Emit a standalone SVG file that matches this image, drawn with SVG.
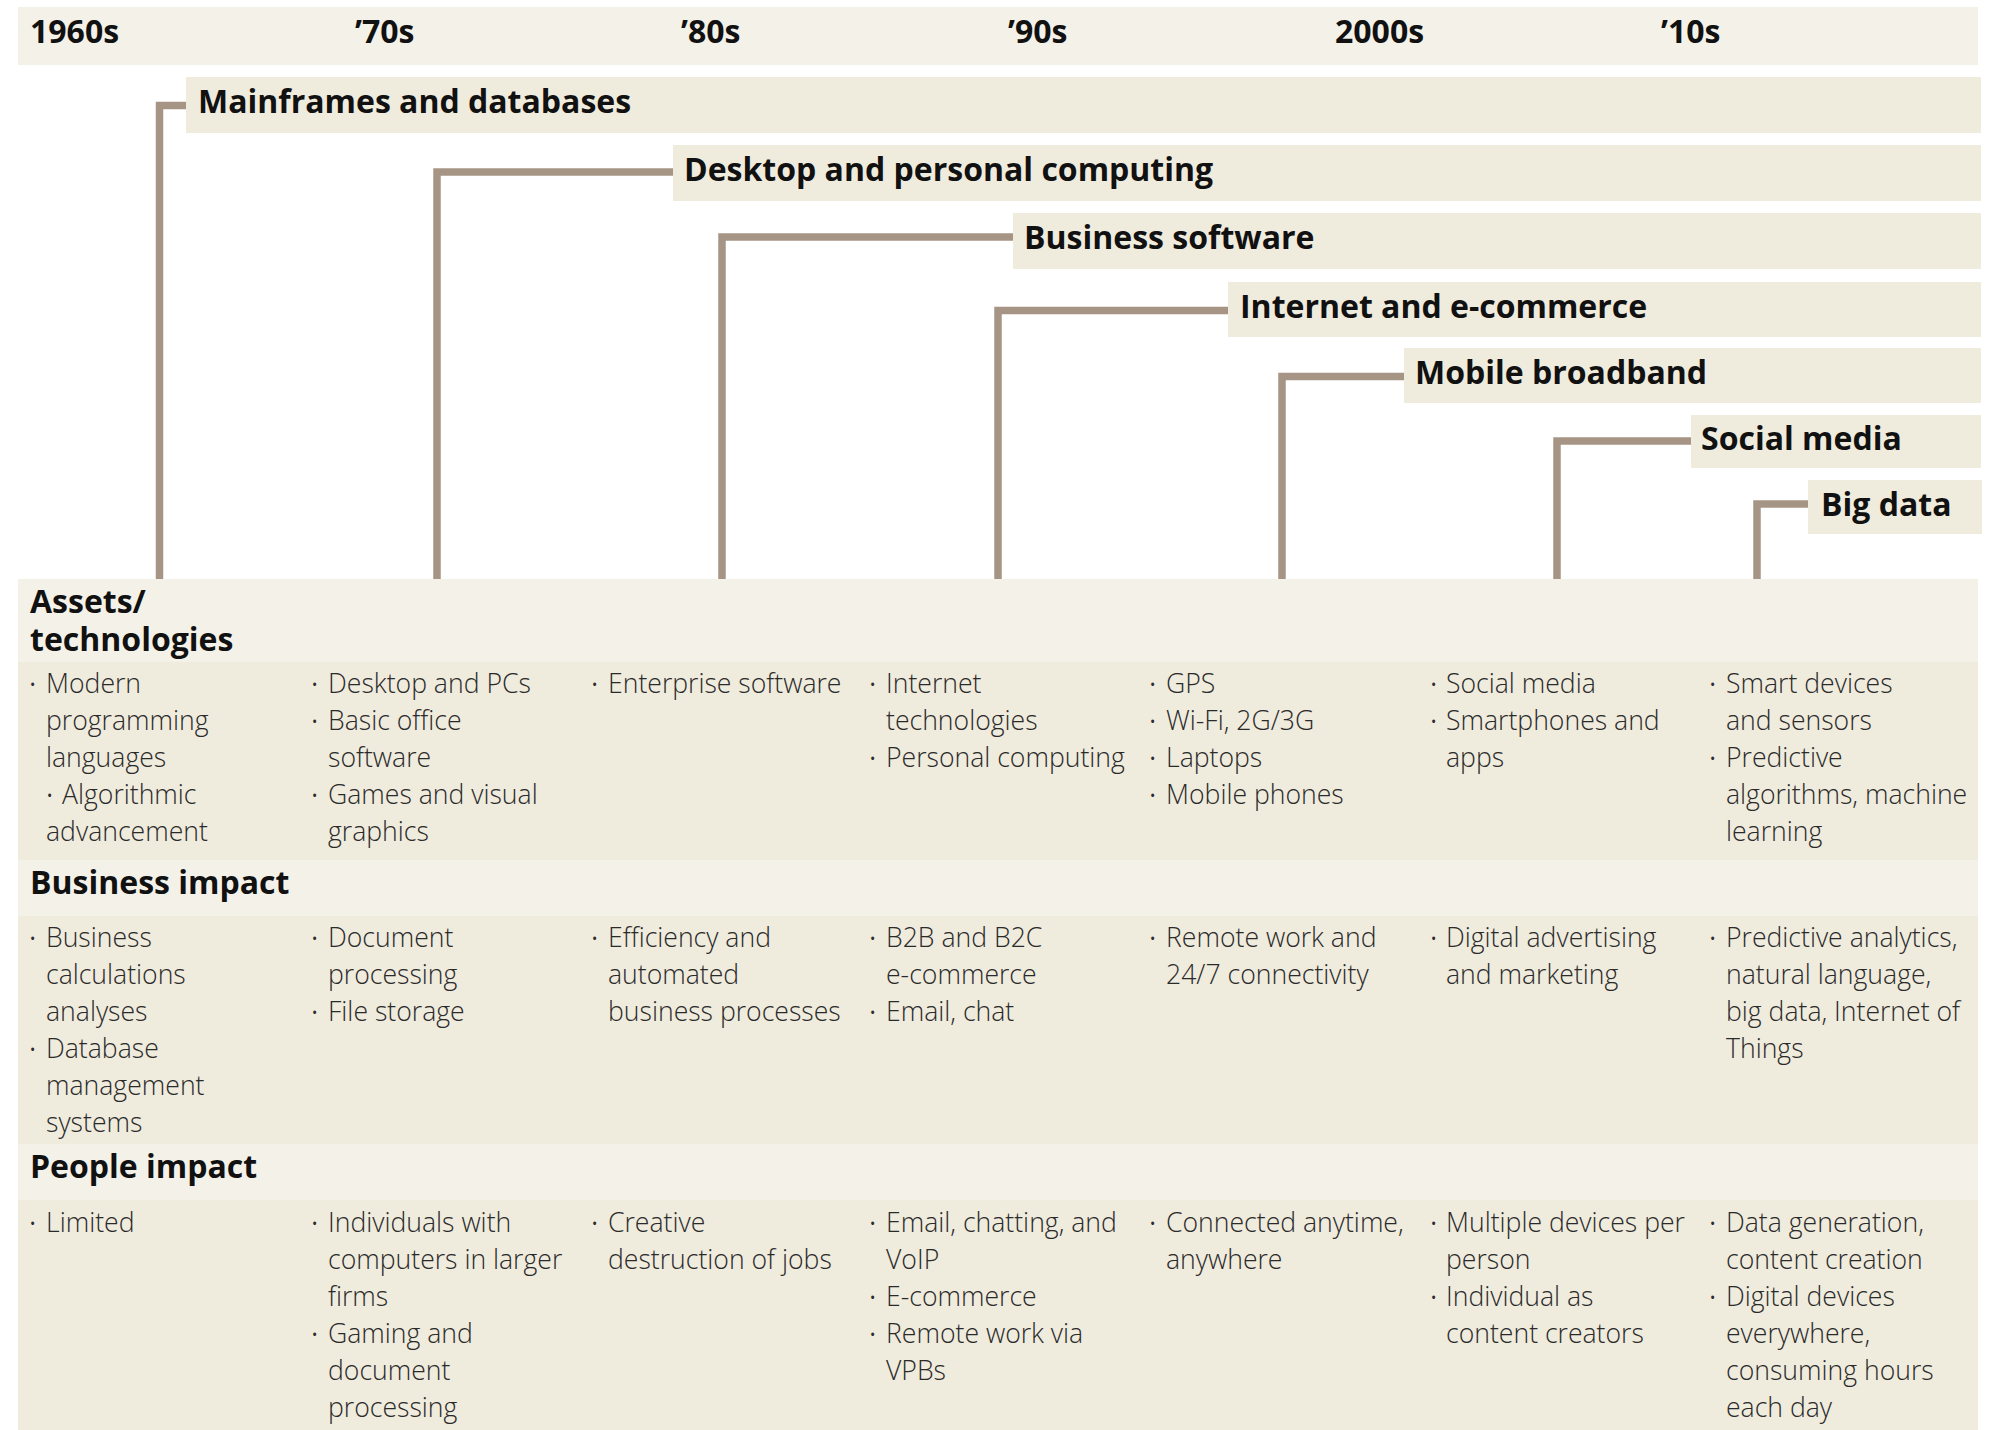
<svg xmlns="http://www.w3.org/2000/svg" width="1998" height="1430" viewBox="0 0 1998 1430">
<style>
.hd{fill:#f4f1e9}
.ct{fill:#efebdd}
.h{font-family:"Open Sans","Liberation Sans",sans-serif;font-weight:700;font-size:32px;fill:#111}
.b{font-family:"Open Sans","Liberation Sans",sans-serif;font-weight:300;font-size:26.6px;fill:#2a2a2a}
.d{font-size:14px;font-weight:400}
.cn{fill:none;stroke:#a69585;stroke-width:7.5;stroke-linejoin:miter;stroke-linecap:butt}
</style>
<rect x="0" y="0" width="1998" height="1430" fill="#ffffff"/>
<g id="timeline-header">
<rect class="hd" x="18" y="7" width="1960" height="58"/>
<text class="h" x="30" y="43">1960s</text>
<text class="h" x="355" y="43">’70s</text>
<text class="h" x="681" y="43">’80s</text>
<text class="h" x="1008" y="43">’90s</text>
<text class="h" x="1335" y="43">2000s</text>
<text class="h" x="1661" y="43">’10s</text>
</g>
<g id="connectors">
<path class="cn" d="M186 105.5H159.5V579"/>
<path class="cn" d="M673 172H437V579"/>
<path class="cn" d="M1013 237H722V579"/>
<path class="cn" d="M1228 310.5H998V579"/>
<path class="cn" d="M1404 376.5H1282V579"/>
<path class="cn" d="M1691 441H1557V579"/>
<path class="cn" d="M1808 504H1757V579"/>
</g>
<g id="mainframes"><rect class="ct" x="186" y="77" width="1795" height="56"/><text class="h" x="198" y="113">Mainframes and databases</text></g>
<g id="desktop"><rect class="ct" x="673" y="145" width="1308" height="56"/><text class="h" x="684" y="181">Desktop and personal computing</text></g>
<g id="business-software"><rect class="ct" x="1013" y="213" width="968" height="56"/><text class="h" x="1024" y="249">Business software</text></g>
<g id="internet"><rect class="ct" x="1228" y="282" width="753" height="55"/><text class="h" x="1240" y="318">Internet and e-commerce</text></g>
<g id="mobile"><rect class="ct" x="1404" y="348" width="577" height="55"/><text class="h" x="1415" y="384">Mobile broadband</text></g>
<g id="social"><rect class="ct" x="1691" y="415" width="290" height="53"/><text class="h" x="1701" y="450">Social media</text></g>
<g id="bigdata"><rect class="ct" x="1808" y="480" width="174" height="54"/><text class="h" x="1821" y="516">Big data</text></g>
<g id="table-bands">
<rect class="hd" x="18" y="579" width="1960" height="83"/>
<rect class="ct" x="18" y="662" width="1960" height="198"/>
<rect class="hd" x="18" y="860" width="1960" height="56"/>
<rect class="ct" x="18" y="916" width="1960" height="228"/>
<rect class="hd" x="18" y="1144" width="1960" height="56"/>
<rect class="ct" x="18" y="1200" width="1960" height="230"/>
<text class="h" x="30" y="613">Assets/</text>
<text class="h" x="30" y="651">technologies</text>
<text class="h" x="30" y="894">Business impact</text>
<text class="h" x="30" y="1178">People impact</text>
</g>
<g id="assets-row" class="b">
<text class="d" x="30" y="690">•</text><text x="46" y="693">Modern</text>
<text x="46" y="730">programming</text>
<text x="46" y="767">languages</text>
<text class="d" x="47" y="801">•</text><text x="62" y="804">Algorithmic</text>
<text x="46" y="841">advancement</text>

<text class="d" x="312" y="690">•</text><text x="328" y="693">Desktop and PCs</text>
<text class="d" x="312" y="727">•</text><text x="328" y="730">Basic office</text>
<text x="328" y="767">software</text>
<text class="d" x="312" y="801">•</text><text x="328" y="804">Games and visual</text>
<text x="328" y="841">graphics</text>

<text class="d" x="592" y="690">•</text><text x="608" y="693">Enterprise software</text>

<text class="d" x="870" y="690">•</text><text x="886" y="693">Internet</text>
<text x="886" y="730">technologies</text>
<text class="d" x="870" y="764">•</text><text x="886" y="767">Personal computing</text>

<text class="d" x="1150" y="690">•</text><text x="1166" y="693">GPS</text>
<text class="d" x="1150" y="727">•</text><text x="1166" y="730">Wi-Fi, 2G/3G</text>
<text class="d" x="1150" y="764">•</text><text x="1166" y="767">Laptops</text>
<text class="d" x="1150" y="801">•</text><text x="1166" y="804">Mobile phones</text>

<text class="d" x="1431" y="690">•</text><text x="1446" y="693">Social media</text>
<text class="d" x="1431" y="727">•</text><text x="1446" y="730">Smartphones and</text>
<text x="1446" y="767">apps</text>

<text class="d" x="1710" y="690">•</text><text x="1726" y="693">Smart devices</text>
<text x="1726" y="730">and sensors</text>
<text class="d" x="1710" y="764">•</text><text x="1726" y="767">Predictive</text>
<text x="1726" y="804">algorithms, machine</text>
<text x="1726" y="841">learning</text>
</g>
<g id="business-row" class="b">
<text class="d" x="30" y="944">•</text><text x="46" y="947">Business</text>
<text x="46" y="984">calculations</text>
<text x="46" y="1021">analyses</text>
<text class="d" x="30" y="1055">•</text><text x="46" y="1058">Database</text>
<text x="46" y="1095">management</text>
<text x="46" y="1132">systems</text>

<text class="d" x="312" y="944">•</text><text x="328" y="947">Document</text>
<text x="328" y="984">processing</text>
<text class="d" x="312" y="1018">•</text><text x="328" y="1021">File storage</text>

<text class="d" x="592" y="944">•</text><text x="608" y="947">Efficiency and</text>
<text x="608" y="984">automated</text>
<text x="608" y="1021">business processes</text>

<text class="d" x="870" y="944">•</text><text x="886" y="947">B2B and B2C</text>
<text x="886" y="984">e-commerce</text>
<text class="d" x="870" y="1018">•</text><text x="886" y="1021">Email, chat</text>

<text class="d" x="1150" y="944">•</text><text x="1166" y="947">Remote work and</text>
<text x="1166" y="984">24/7 connectivity</text>

<text class="d" x="1431" y="944">•</text><text x="1446" y="947">Digital advertising</text>
<text x="1446" y="984">and marketing</text>

<text class="d" x="1710" y="944">•</text><text x="1726" y="947">Predictive analytics,</text>
<text x="1726" y="984">natural language,</text>
<text x="1726" y="1021">big data, Internet of</text>
<text x="1726" y="1058">Things</text>
</g>
<g id="people-row" class="b">
<text class="d" x="30" y="1229">•</text><text x="46" y="1232">Limited</text>

<text class="d" x="312" y="1229">•</text><text x="328" y="1232">Individuals with</text>
<text x="328" y="1269">computers in larger</text>
<text x="328" y="1306">firms</text>
<text class="d" x="312" y="1340">•</text><text x="328" y="1343">Gaming and</text>
<text x="328" y="1380">document</text>
<text x="328" y="1417">processing</text>

<text class="d" x="592" y="1229">•</text><text x="608" y="1232">Creative</text>
<text x="608" y="1269">destruction of jobs</text>

<text class="d" x="870" y="1229">•</text><text x="886" y="1232">Email, chatting, and</text>
<text x="886" y="1269">VoIP</text>
<text class="d" x="870" y="1303">•</text><text x="886" y="1306">E-commerce</text>
<text class="d" x="870" y="1340">•</text><text x="886" y="1343">Remote work via</text>
<text x="886" y="1380">VPBs</text>

<text class="d" x="1150" y="1229">•</text><text x="1166" y="1232">Connected anytime,</text>
<text x="1166" y="1269">anywhere</text>

<text class="d" x="1431" y="1229">•</text><text x="1446" y="1232">Multiple devices per</text>
<text x="1446" y="1269">person</text>
<text class="d" x="1431" y="1303">•</text><text x="1446" y="1306">Individual as</text>
<text x="1446" y="1343">content creators</text>

<text class="d" x="1710" y="1229">•</text><text x="1726" y="1232">Data generation,</text>
<text x="1726" y="1269">content creation</text>
<text class="d" x="1710" y="1303">•</text><text x="1726" y="1306">Digital devices</text>
<text x="1726" y="1343">everywhere,</text>
<text x="1726" y="1380">consuming hours</text>
<text x="1726" y="1417">each day</text>
</g>
</svg>
